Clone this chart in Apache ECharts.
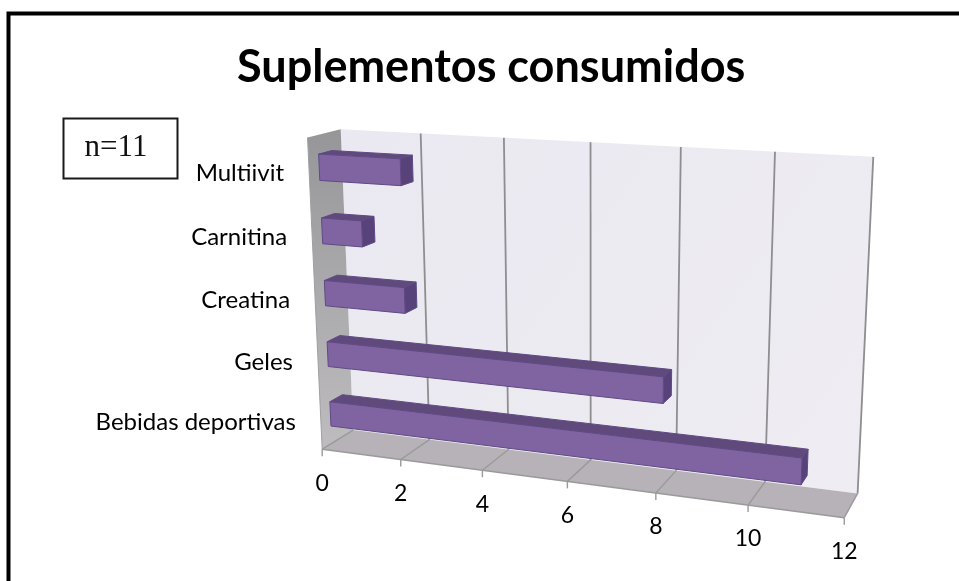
<!DOCTYPE html>
<html><head><meta charset="utf-8">
<style>html,body{margin:0;padding:0;background:#fff}#c{width:959px;height:581px}</style>
<script src="https://cdn.jsdelivr.net/npm/echarts@6/dist/echarts.min.js"></script>
</head><body><div id="c"></div>
<script>
const titleText = 'Suplementos consumidos';
const noteText = 'n=11';
const categories = ['Bebidas deportivas', 'Geles', 'Creatina', 'Carnitina', 'Multiivit'];
const values = [11, 8, 2, 1, 2];
const tickValues = [0, 2, 4, 6, 8, 10, 12];

// Camera calibration: model (value, height, depth) -> page pixel, solved as a 3x4 projective matrix.
const calibration = [
  [0,0,0,322.7,449],[6,0,0,566.7,482],[12,0,0,845,516.7],
  [0,0,1,353,430],[12,0,1,857.3,494],
  [0,1,1,341,129],[6,1,1,591,142],[12,1,1,873,157],
  [0,1,0,307,138]
];
function solve(A, b) {
  const n = b.length, M = A.map((r, i) => r.concat(b[i]));
  for (let i = 0; i < n; i++) {
    let p = i;
    for (let k = i + 1; k < n; k++) if (Math.abs(M[k][i]) > Math.abs(M[p][i])) p = k;
    [M[i], M[p]] = [M[p], M[i]];
    for (let k = 0; k < n; k++) {
      if (k === i) continue;
      const f = M[k][i] / M[i][i];
      for (let j = i; j <= n; j++) M[k][j] -= f * M[i][j];
    }
  }
  return M.map((r, i) => r[n] / r[i]);
}
const cam = (function () {
  const rows = [], rhs = [];
  calibration.forEach(([X, Y, Z, u, v]) => {
    rows.push([X, Y, Z, 1, 0, 0, 0, 0, -u * X, -u * Y, -u * Z]); rhs.push(u);
    rows.push([0, 0, 0, 0, X, Y, Z, 1, -v * X, -v * Y, -v * Z]); rhs.push(v);
  });
  const ATA = [], ATb = [];
  for (let i = 0; i < 11; i++) {
    ATA.push([]); let s = 0;
    for (let j = 0; j < 11; j++) {
      let t = 0; rows.forEach(r => t += r[i] * r[j]); ATA[i].push(t);
    }
    rows.forEach((r, k) => s += r[i] * rhs[k]); ATb.push(s);
  }
  return solve(ATA, ATb);
})();
function project(X, Y, Z) {
  const w = cam[8] * X + cam[9] * Y + cam[10] * Z + 1;
  return [(cam[0] * X + cam[1] * Y + cam[2] * Z + cam[3]) / w,
          (cam[4] * X + cam[5] * Y + cam[6] * Z + cam[7]) / w];
}
// The hidden cartesian scales feed the projection: grid pixels -> model units.
function toModel(params, pt) {
  const c = params.coordSys;
  return { X: (pt[0] - c.x) / c.width * 12, Y: (c.y + c.height - pt[1]) / c.height };
}
function poly(points, fill, stroke, lw, z2) {
  return { type: 'polygon', shape: { points }, z2: z2 || 0,
    style: { fill, stroke: stroke || null, lineWidth: lw || 0, lineJoin: 'round' } };
}
function seg(a, b, stroke, lw) {
  return { type: 'line', shape: { x1: a[0], y1: a[1], x2: b[0], y2: b[1] },
    style: { stroke, lineWidth: lw, fill: null } };
}
function vGrad(a, b) {
  return { type: 'linear', x: 0, y: 0, x2: 0, y2: 1, colorStops: [{ offset: 0, color: a }, { offset: 1, color: b }] };
}

function renderRoom(params, api) {
  const P = project;
  return { type: 'group', children: [
    poly([P(0,0,1),P(12,0,1),P(12,1,1),P(0,1,1)], { type:'linear',x:0,y:0,x2:1,y2:1,colorStops:[{offset:0,color:'#EAE8F0'},{offset:1,color:'#EFEDF3'}] }),
    poly([P(0,0,0),P(0,0,1),P(0,1,1),P(0,1,0)], vGrad('#969698','#BEBCBF')),
    poly([P(0,0,0),P(12,0,0),P(12,0,1),P(0,0,1)], '#B6B2B7'),
    seg(P(0,0,0), P(0,1,0), '#A0A0A2', 1),
    seg(P(0,0,0), P(12,0,0), '#9A9A9A', 1.5)
  ]};
}
function renderTick(params, api) {
  const X = toModel(params, api.coord([api.value(0), 0])).X;
  const front = project(X, 0, 0), back = project(X, 0, 1), top = project(X, 1, 1);
  const kids = [];
  if (X > 0) kids.push(seg(back, top, '#8E8E90', 1.8));
  kids.push(seg(front, back, '#9A9A9A', 1.4));
  kids.push(seg(front, [front[0], front[1] + 7], '#9A9A9A', 1.4));
  kids.push({ type: 'text', x: front[0], y: front[1] + 34,
    style: { text: String(api.value(0)), fill: '#000', font: '23px Lato', align: 'center', verticalAlign: 'middle' } });
  return { type: 'group', children: kids };
}
const Z0 = 0.30, Z1 = 0.70, BAR = 0.41;
function renderBar(params, api) {
  const center = api.coord([0, api.value(1)]);
  const end = api.coord([api.value(0), api.value(1)]);
  const band = api.size([0, 1])[1];
  const m = toModel(params, center);
  const Xe = toModel(params, end).X;
  const half = BAR * band / params.coordSys.height / 2;
  const y0 = m.Y - half, y1 = m.Y + half;
  const P = project, edge = '#5F4A86';
  const label = project(0, m.Y, 0);
  return { type: 'group', children: [
    poly([P(0,y1,Z0),P(Xe,y1,Z0),P(Xe,y1,Z1),P(0,y1,Z1)], '#5F4A7B', edge, 1),
    poly([P(Xe,y0,Z0),P(Xe,y0,Z1),P(Xe,y1,Z1),P(Xe,y1,Z0)], '#57437A', edge, 1),
    poly([P(0,y0,Z0),P(Xe,y0,Z0),P(Xe,y1,Z0),P(0,y1,Z0)], '#8064A2', edge, 1),
    { type: 'text', x: label[0] - 25, y: label[1] + 3,
      style: { text: categories[api.value(1)], fill: '#000', font: '24px Lato', align: 'right', verticalAlign: 'middle' } }
  ]};
}

const chart = echarts.init(document.getElementById('c'), null, { renderer: 'canvas' });
chart.setOption({
  animation: false,
  backgroundColor: '#fff',
  title: { text: titleText, left: 232, top: 40,
    textStyle: { fontFamily: 'Lato', fontWeight: 'bold', fontSize: 45, color: '#000' } },
  grid: { left: 322, right: 114, top: 138, bottom: 132 },
  xAxis: { type: 'value', min: 0, max: 12, interval: 2, show: false },
  yAxis: { type: 'category', data: categories, show: false },
  graphic: [
    { type: 'rect', shape: { x: 8.5, y: 13.5, width: 1000, height: 700 }, silent: true,
      style: { fill: 'transparent', stroke: '#000', lineWidth: 4 }, z: 10 },
    { type: 'rect', shape: { x: 63.5, y: 118.5, width: 114, height: 60 }, silent: true,
      style: { fill: '#fff', stroke: '#1a1a1a', lineWidth: 2 }, z: 10 },
    { type: 'text', x: 116, y: 148, silent: true, z: 11,
      style: { text: noteText, fill: '#111', font: '31px "Liberation Serif"', align: 'center', verticalAlign: 'middle' } }
  ],
  series: [
    { type: 'custom', name: 'room', data: [[0, 0]], renderItem: renderRoom, clip: false, silent: true, z: 1 },
    { type: 'custom', name: 'ticks', data: tickValues.map(v => [v, 0]), renderItem: renderTick, clip: false, silent: true, z: 2 },
    { type: 'custom', name: 'Suplementos', data: values.map((v, i) => [v, i]).reverse(), renderItem: renderBar, clip: false, z: 3,
      encode: { x: 0, y: 1 } }
  ]
});
</script></body></html>
